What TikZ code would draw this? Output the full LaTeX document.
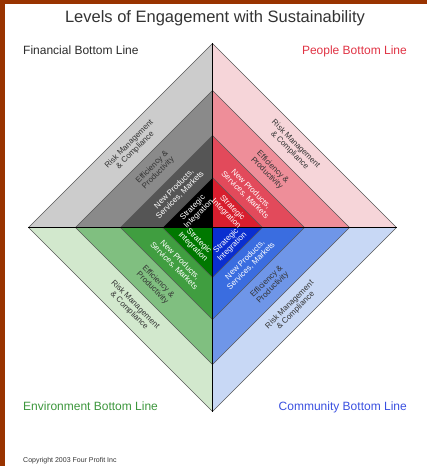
\documentclass[tikz,border=0pt]{standalone}
\usepackage{fontspec}
\setmainfont{Liberation Sans}

\definecolor{frame}{HTML}{993300}
\definecolor{fin1}{HTML}{CCCCCC}
\definecolor{fin2}{HTML}{8A8A8A}
\definecolor{fin3}{HTML}{555555}
\definecolor{fin4}{HTML}{000000}
\definecolor{ppl1}{HTML}{F6D5D9}
\definecolor{ppl2}{HTML}{EE8E99}
\definecolor{ppl3}{HTML}{E24A5B}
\definecolor{ppl4}{HTML}{D81E2E}
\definecolor{env1}{HTML}{D2E8CD}
\definecolor{env2}{HTML}{80BF80}
\definecolor{env3}{HTML}{409E40}
\definecolor{env4}{HTML}{007800}
\definecolor{com1}{HTML}{C8D8F5}
\definecolor{com2}{HTML}{6F96E8}
\definecolor{com3}{HTML}{3A6DE0}
\definecolor{com4}{HTML}{0A2FD0}
\definecolor{fintxt}{HTML}{2B2B2B}
\definecolor{ppltxt}{HTML}{E03344}
\definecolor{envtxt}{HTML}{3C963C}
\definecolor{comtxt}{HTML}{3A50E0}
\definecolor{darktxt}{HTML}{333333}

\begin{document}
\begin{tikzpicture}[x=1pt, y=1pt,
      band/.style={draw=black!65, line width=0.4pt},
      bandlabel/.style={align=center, inner sep=0pt, font=\fontsize{8}{8.5}\selectfont},
      linelabel/.style={inner sep=0pt, font=\fontsize{12}{14}\selectfont},
      axis/.style={line width=1.4pt}
    ]
    
    % Page with brown frame on top and left
    \useasboundingbox (-212.5,-238.5) rectangle (214.5,227.5);
    \fill[frame] (-212.5,223.2) rectangle (214.5,227.5);
    \fill[frame] (-212.5,-238.5) rectangle (-207.8,227.5);
    
    % Nested triangles, one quadrant per bottom line
    \foreach \q/\sx/\sy in {fin/-1/1, ppl/1/1, env/-1/-1, com/1/-1} {
      \foreach \r/\k in {184/1, 137/2, 92/3, 50/4}
        \filldraw[band, fill=\q\k] (0,0) -- (\sx*\r,0) -- (0,\sy*\r) -- cycle;
    }
    
    % Diamond corners and cross
    \coordinate (N) at (0,184);
    \coordinate (S) at (0,-184);
    \coordinate (W) at (-184,0);
    \coordinate (E) at (184,0);
    \draw[axis] (N) -- (S);
    \draw[axis] (W) -- (E);
    
    % Level labels along each band
    \foreach \q/\sx/\sy/\rot in {fin/-1/1/45, ppl/1/1/-45, env/-1/-1/-45, com/1/-1/45} {
      \foreach \m/\k/\c/\txt in {160.5/1/darktxt/{Risk Management\\\& Compliance},
                                 114.5/2/darktxt/{Efficiency \&\\Productivity},
                                 71/3/white/{New Products,\\Services, Markets},
                                 33.3/4/white/{Strategic\\Integration}}
        \node[bandlabel, text=\c, rotate=\rot] (\q-\k) at (\sx*\m/2, \sy*\m/2) {\txt};
    }
    
    % Title, bottom lines and copyright
    \node[anchor=base, font=\fontsize{16.5}{18}\selectfont, text=darktxt] (title) at (2.5,204.8) {Levels of Engagement with Sustainability};
    \node[linelabel, anchor=base west, text=fintxt] (fin) at (-189.5,172.5) {Financial Bottom Line};
    \node[linelabel, anchor=base east, text=ppltxt] (ppl) at (194.5,172.5) {People Bottom Line};
    \node[linelabel, anchor=base west, text=envtxt] (env) at (-189.5,-183.2) {Environment Bottom Line};
    \node[linelabel, anchor=base east, text=comtxt] (com) at (194.5,-183.2) {Community Bottom Line};
    \node[anchor=base west, inner sep=0pt, font=\fontsize{7}{8}\selectfont, text=darktxt] (copy) at (-189.5,-235) {Copyright 2003 Four Profit Inc};
    
    \end{tikzpicture}
\end{document}
